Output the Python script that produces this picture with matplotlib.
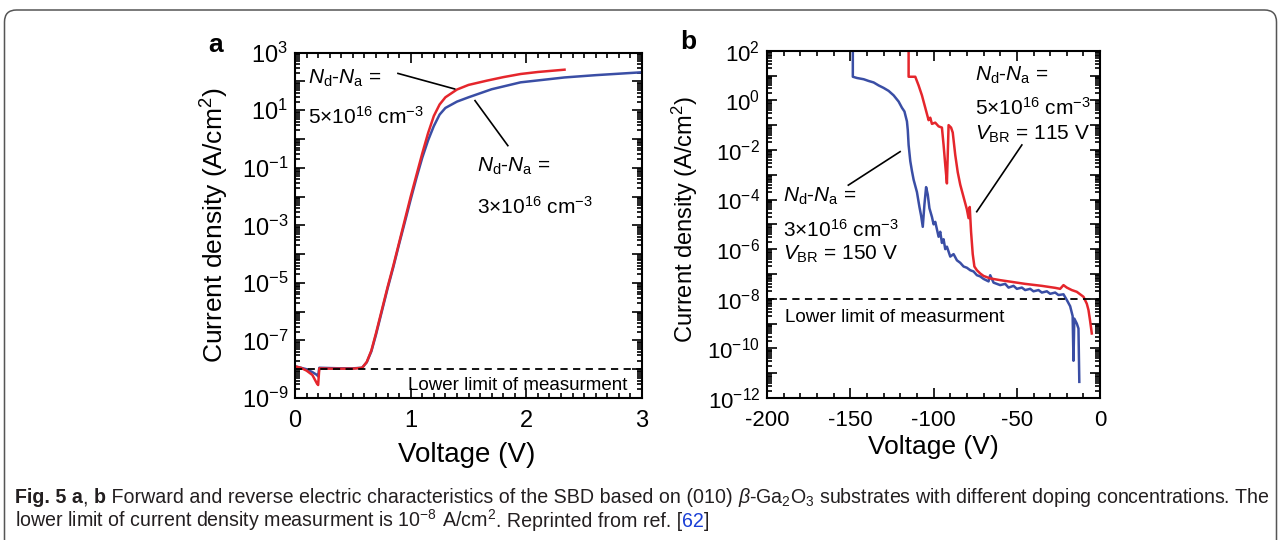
import numpy as np
import matplotlib
matplotlib.use("Agg")
import matplotlib.pyplot as plt
import matplotlib.ticker as mticker
import matplotlib.transforms as mtransforms
from matplotlib.patches import FancyBboxPatch

plt.rcParams['font.family'] = ['Liberation Sans', 'DejaVu Sans']
plt.rcParams['mathtext.fontset'] = 'custom'
plt.rcParams['mathtext.rm'] = 'Liberation Sans'
plt.rcParams['mathtext.it'] = 'Liberation Sans:italic'
plt.rcParams['mathtext.bf'] = 'Liberation Sans:bold'

RED = '#e5262c'
BLUE = '#3a4ea5'

# ---- panel a: forward J-V (log10 of A/cm2) ----
v_a_red = [0.0, 0.05, 0.1, 0.15, 0.19, 0.2, 0.21, 0.3, 0.4, 0.5, 0.58, 0.62, 0.66, 0.7,
           0.75, 0.8, 0.85, 0.9, 0.95, 1.0, 1.05, 1.1, 1.15, 1.2, 1.25, 1.3, 1.4, 1.5,
           1.66, 1.8, 1.95, 2.1, 2.33]
logj_a_red = [-7.9, -7.95, -8.05, -8.2, -8.5, -8.55, -7.97, -7.98, -7.98, -7.98, -7.95,
              -7.75, -7.35, -6.75, -5.95, -5.15, -4.4, -3.6, -2.8, -2.0, -1.25, -0.5,
              0.2, 0.8, 1.2, 1.45, 1.72, 1.88, 2.03, 2.15, 2.26, 2.33, 2.41]
v_a_blue = [0.0, 0.05, 0.1, 0.15, 0.19, 0.2, 0.21, 0.3, 0.4, 0.5, 0.58, 0.62, 0.66, 0.7,
            0.75, 0.8, 0.85, 0.9, 0.95, 1.0, 1.05, 1.1, 1.15, 1.2, 1.25, 1.3, 1.4, 1.5,
            1.7, 1.95, 2.33, 2.6, 3.0]
logj_a_blue = [-7.9, -7.95, -8.0, -8.1, -8.2, -8.25, -7.95, -7.96, -7.97, -7.97, -7.95,
               -7.76, -7.38, -6.8, -6.0, -5.2, -4.45, -3.65, -2.88, -2.1, -1.35, -0.65,
               -0.05, 0.45, 0.85, 1.08, 1.3, 1.45, 1.73, 1.97, 2.14, 2.22, 2.32]

# ---- panel b: reverse J-V (log10 of A/cm2) ----
v_b_blue = [-148.5, -148.5, -146, -142, -139, -136, -133, -130, -127, -124, -121, -119,
            -117.5, -116, -115.5, -115, -114, -113, -112, -110, -108.5, -107.5, -106.5,
            -105.5, -104.5, -103.5, -102.5, -101, -100, -99, -98, -97, -96, -95, -94,
            -93, -92, -90, -88, -86, -84, -82, -80, -78, -76, -74, -72, -70, -67, -66,
            -64, -60, -57, -55, -52, -50, -47, -45, -42, -40, -37, -35, -32, -30, -27,
            -25, -22, -20, -18, -16.5, -16, -15.5, -14, -13, -12.5]
logj_b_blue = [2.3, 0.95, 0.9, 0.85, 0.78, 0.72, 0.6, 0.5, 0.38, 0.2, -0.05, -0.3,
               -0.45, -0.85, -1.2, -1.8, -2.45, -2.85, -3.2, -3.7, -4.3, -4.65, -5.1,
               -4.2, -3.5, -3.8, -4.35, -4.7, -5.0, -4.9, -5.2, -5.5, -5.3, -5.75, -5.6,
               -6.0, -5.9, -6.3, -6.2, -6.45, -6.55, -6.7, -6.75, -6.85, -6.9, -7.05,
               -7.1, -7.2, -7.3, -7.05, -7.35, -7.45, -7.4, -7.55, -7.48, -7.6, -7.55,
               -7.65, -7.6, -7.7, -7.65, -7.75, -7.7, -7.8, -7.75, -7.85, -7.82, -8.05,
               -8.3, -8.7, -10.5, -8.8, -9.0, -9.2, -11.35]
v_b_red = [-115, -115, -111, -109, -107, -105, -103, -102, -101, -99, -97, -95, -94, -93,
           -92, -91, -89.5, -88.5, -87, -85.5, -84, -82, -80, -79, -78.3, -77.5, -76.5,
           -75.5, -74, -72, -70, -66, -60, -54, -45, -35, -27, -24, -22, -20, -17, -14,
           -10, -8, -7, -6, -5]
logj_b_red = [2.3, 0.95, 0.95, 0.6, 0.2, -0.3, -0.8, -0.7, -0.95, -0.9, -1.05, -1.1, -1.8,
              -2.6, -3.35, -1.0, -1.1, -1.3, -2.2, -2.9, -3.4, -3.9, -4.4, -4.75, -4.3,
              -5.3, -6.2, -6.7, -6.85, -6.98, -7.08, -7.18, -7.25, -7.31, -7.4, -7.48,
              -7.56, -7.6, -7.45, -7.55, -7.65, -7.72, -7.92, -8.2, -8.45, -8.9, -9.4]

limit = 1e-8

fig = plt.figure(figsize=(12.81, 5.40), dpi=100)

# rounded frame around the whole figure
frame = FancyBboxPatch((0.045, -1.0), 12.72, 6.30, boxstyle="round,pad=0,rounding_size=0.12",
                       transform=fig.dpi_scale_trans, fill=False, edgecolor='#555555',
                       linewidth=1.1, clip_on=False)
fig.patches.append(frame)

ax1 = fig.add_axes([0.2303, 0.263, 0.2709, 0.6394])
ax2 = fig.add_axes([0.5988, 0.263, 0.2600, 0.6431])

ax1.plot(v_a_blue, 10 ** np.array(logj_a_blue), color=BLUE, lw=1.8)
ax1.plot(v_a_red, 10 ** np.array(logj_a_red), color=RED, lw=1.8)
ax1.plot([0, 3], [limit, limit], color='black', lw=1.3, ls=(0, (4, 3)))

ax2.plot(v_b_blue, 10 ** np.array(logj_b_blue), color=BLUE, lw=1.8)
ax2.plot(v_b_red, 10 ** np.array(logj_b_red), color=RED, lw=1.8)
ax2.plot([-200, 0], [limit, limit], color='black', lw=1.3, ls=(0, (4, 3)))

for ax, (lo, hi), odd, lsize in [(ax1, (-9, 3), True, 17), (ax2, (-12, 2), False, 16)]:
    ax.set_yscale('log')
    ax.set_ylim(10.0 ** lo, 10.0 ** hi)
    exps = list(range(lo, hi + 1))
    ax.set_yticks([10.0 ** e for e in exps])
    ax.set_yticklabels(['$10^{%d}$' % e if (e % 2 != 0) == odd else '' for e in exps])
    ax.yaxis.set_minor_locator(mticker.LogLocator(base=10, subs=np.arange(2, 10), numticks=50))
    ax.yaxis.set_minor_formatter(mticker.NullFormatter())
    ax.tick_params(which='both', direction='in', top=True, right=True, width=1.2)
    ax.tick_params(which='major', length=7, labelsize=lsize)
    ax.tick_params(which='minor', length=3.5)
    ax.tick_params(axis='y', which='major', pad=5)
    ax.tick_params(axis='x', which='major', pad=9)
    for s in ax.spines.values():
        s.set_linewidth(1.5)

ax1.set_xlim(0, 3)
ax1.set_xticks([0, 1, 2, 3])
ax1.xaxis.set_minor_locator(mticker.MultipleLocator(0.1))
ax2.set_xlim(-200, 0)
ax2.set_xticks([-200, -150, -100, -50, 0])
ax2.set_xticklabels(['-200', '-150', '-100', '-50', '0'])
ax2.xaxis.set_minor_locator(mticker.MultipleLocator(10))

ax1.set_xlabel('Voltage (V)', fontsize=20)
ax1.xaxis.set_label_coords(0.496, -0.165)
ax1.xaxis.label.set_va('center')
ax1.set_ylabel('Current density (A/cm$^{2}$)', fontsize=19)
ax1.yaxis.set_label_coords(-0.23, 0.50)
ax1.yaxis.label.set_va('center')

ax2.set_xlabel('Voltage (V)', fontsize=19)
ax2.xaxis.set_label_coords(0.5, -0.142)
ax2.xaxis.label.set_va('center')
ax2.set_ylabel('Current density (A/cm$^{2}$)', fontsize=17)
ax2.yaxis.set_label_coords(-0.246, 0.515)
ax2.yaxis.label.set_va('center')

fig.text(0.168, 0.917, 'a', fontsize=19, fontweight='bold', ha='center', va='center')
fig.text(0.537, 0.922, 'b', fontsize=19, fontweight='bold', ha='center', va='center')

nd = r'$N_{\rm d}$-$N_{\rm a}$ ='
fs = 15
# panel a annotations (y = baseline)
ax1.text(0.11, 10 ** 1.91, nd, fontsize=fs, va='baseline')
ax1.text(0.11, 10 ** 0.53, r'5×10$^{16}$ cm$^{-3}$', fontsize=fs, va='baseline')
ax1.text(1.57, 10 ** -1.15, nd, fontsize=fs, va='baseline')
ax1.text(1.57, 10 ** -2.6, r'3×10$^{16}$ cm$^{-3}$', fontsize=fs, va='baseline')
ax1.plot([0.89, 1.38], [10 ** 2.28, 10 ** 1.74], color='black', lw=1.2)
ax1.plot([1.556, 1.84], [10 ** 1.335, 10 ** -0.23], color='black', lw=1.2)
ax1.text(2.87, 10 ** -8.72, 'Lower limit of measurment', fontsize=13.5, ha='right', va='baseline')

# panel b annotations
ax2.text(-190.4, 10 ** -4.09, nd, fontsize=fs, va='baseline')
ax2.text(-190.4, 10 ** -5.5, r'3×10$^{16}$ cm$^{-3}$', fontsize=fs, va='baseline')
ax2.text(-190.4, 10 ** -6.44, r'$V_{\rm BR}$ = 150 V', fontsize=fs, va='baseline')
ax2.text(-75.1, 10 ** 0.78, nd, fontsize=fs, va='baseline')
ax2.text(-75.1, 10 ** -0.59, r'5×10$^{16}$ cm$^{-3}$', fontsize=fs, va='baseline')
ax2.text(-75.1, 10 ** -1.6, r'$V_{\rm BR}$ = 115 V', fontsize=fs, va='baseline')
ax2.plot([-151.2, -120.1], [10 ** -3.42, 10 ** -2.07], color='black', lw=1.2)
ax2.plot([-74.1, -47.0], [10 ** -4.49, 10 ** -1.8], color='black', lw=1.2)
ax2.text(-189.2, 10 ** -8.93, 'Lower limit of measurment', fontsize=13.5, va='baseline')

# caption, drawn piece by piece so bold / italic / link colour can change mid-line
cap_fs = 14.1
renderer = fig.canvas.get_renderer()


def caption_row(pieces, x, y):
    trans = fig.transFigure
    for s, kw in pieces:
        t = fig.text(x, y, s, transform=trans, fontsize=cap_fs, va='baseline',
                     color=kw.get('color', '#231f20'),
                     fontweight=kw.get('weight', 'normal'), fontstyle=kw.get('style', 'normal'))
        w = t.get_window_extent(renderer).width
        trans = mtransforms.offset_copy(trans, x=w, units='dots')


caption_row([('Fig. 5 a', {'weight': 'bold'}),
             (', ', {}),
             ('b', {'weight': 'bold'}),
             (' Forward and reverse electric characteristics of the SBD based on (010) ', {}),
             ('β', {'style': 'italic'}),
             ('-Ga$_2$O$_3$ substrates with different doping concentrations. The', {})],
            0.0117, 1 - 503 / 540)
caption_row([('lower limit of current density measurment is 10$^{-8}$', {}),
             (' A/cm$^{2}$', {}),
             ('. Reprinted from ref. [', {}),
             ('62', {'color': '#1a3fd6'}),
             (']', {})],
            0.0117, 1 - 527 / 540)

fig.savefig('out.png', dpi=100)
